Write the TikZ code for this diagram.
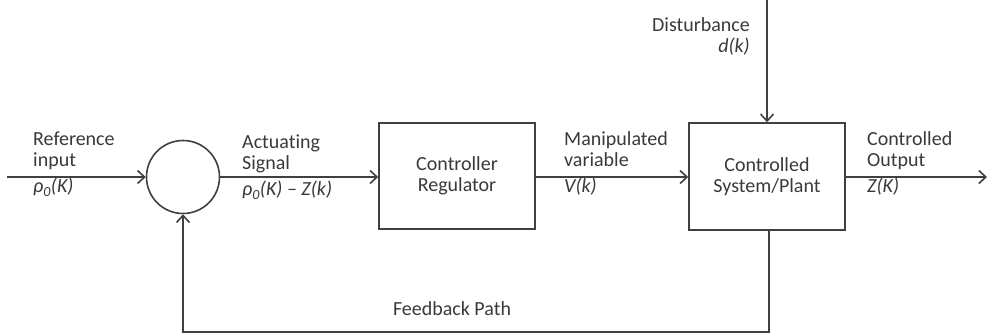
\documentclass[tikz,border=0pt]{standalone}
\usepackage{fontspec}
\setmainfont{Carlito}[Ligatures=NoCommon]
\usetikzlibrary{arrows.meta}
\definecolor{lncol}{HTML}{404040}
\definecolor{txcol}{HTML}{3A3A3A}
\begin{document}
\begin{tikzpicture}[x=1pt,y=-1pt,
  every node/.style={text=txcol,font=\fontsize{20}{21}\selectfont,inner sep=0pt},
  conn/.style={draw=lncol,line width=1.6pt,-{Straight Barb[length=7pt,width=13pt,line width=1.6pt]}},
  blockbox/.style={draw=lncol,line width=1.6pt,align=center},
  lbl/.style={align=left,anchor=north west}]
\useasboundingbox[fill=white] (0,0) rectangle (987,335);

% blocks
\node[draw=lncol,line width=1.6pt,circle,minimum size=73pt] (sum) at (183,177) {};
\node[blockbox,minimum width=156pt,minimum height=106pt] (ctrl) at (457,176) {Controller\\Regulator};
\node[blockbox,minimum width=156pt,minimum height=107pt] (plant) at (767,176.5) {Controlled\\System/Plant};

% free ends
\coordinate (in) at (7,177);
\coordinate (out) at (987,177);
\coordinate (dtop) at (767,0);
\coordinate (fbr) at (769,332);

% connectors
\draw[conn] (in) -- (sum.west);
\draw[conn] (sum.east) -- (sum.east -| ctrl.west);
\draw[conn] (sum.east -| ctrl.east) -- (sum.east -| plant.west);
\draw[conn] (sum.east -| plant.east) -- (out);
\draw[conn] (dtop) -- (plant.north);
\draw[conn] (plant.south -| fbr) -- (fbr) -| (sum.south);

% labels
\node[lbl] (lref) at (33,132) {Reference\\input\\[5pt]\itshape ρ\textsubscript{0}(K)};
\node[lbl] (lact) at (242,135) {Actuating\\Signal\\[5pt]\itshape ρ\textsubscript{0}(K) – Z(k)};
\node[lbl] (lman) at (564,131) {Manipulated\\variable\\[5pt]\itshape V(k)};
\node[lbl] (lout) at (867,131) {Controlled\\Output\\[5pt]\itshape Z(K)};
\node[align=right,anchor=north east] (ldist) at (750,17) {Disturbance\\\itshape d(k)};
\node[anchor=base] (lfb) at (452,315) {Feedback Path};
\end{tikzpicture}
\end{document}
